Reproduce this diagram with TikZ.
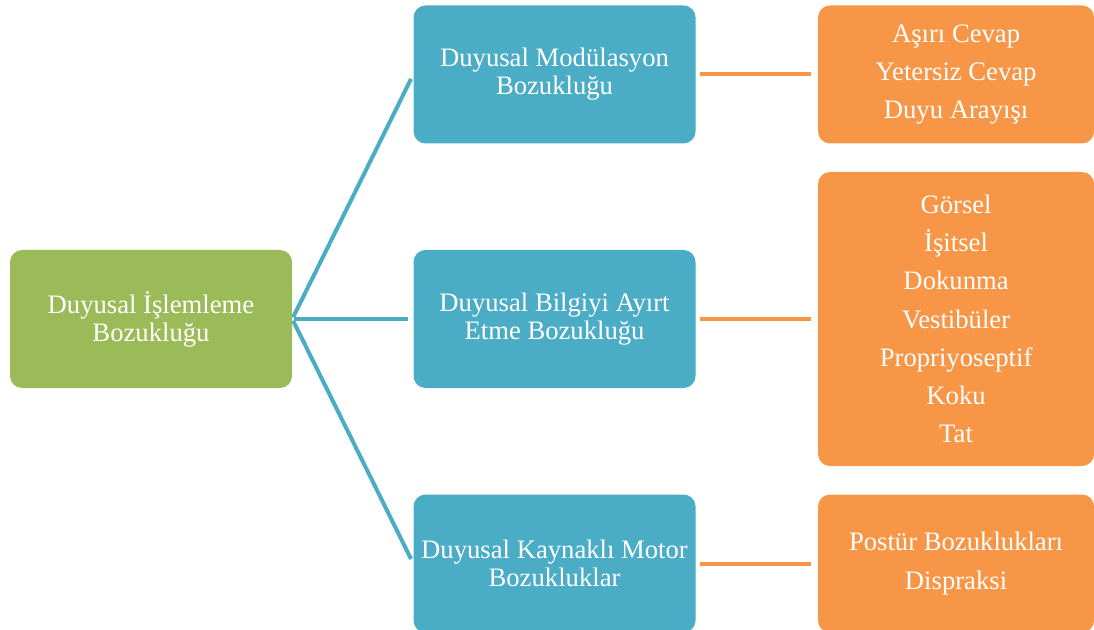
\documentclass[tikz,border=0pt]{standalone}
\usepackage{fontspec}
\setmainfont{Liberation Serif}
\usetikzlibrary{positioning}
\definecolor{grn}{HTML}{9BBB59}
\definecolor{blu}{HTML}{4BACC6}
\definecolor{org}{HTML}{F79646}
\begin{document}
\begin{tikzpicture}[x=1pt,y=1pt,
  box/.style={rounded corners=9pt,text=white,align=center,inner sep=2pt,minimum width=211.5pt,minimum height=103.5pt,font=\fontsize{20}{21}\selectfont},
  g/.style={box,fill=grn},
  b/.style={box,fill=blu},
  o/.style={box,fill=org,minimum width=207pt,font=\fontsize{20}{28.7}\selectfont},
  bl/.style={draw=blu,line width=3pt,shorten <=1.5pt,shorten >=3.75pt},
  ol/.style={draw=org,line width=3pt,shorten <=3pt,shorten >=5.25pt}]
\useasboundingbox (0,0) rectangle (820.5,-472.5);
\node[g] (root) at (113.25,-239.25) {Duyusal İşlemleme\\Bozukluğu};
\node[b,right=90.75pt of root] (mod) {Duyusal Bilgiyi Ayırt\\Etme Bozukluğu};
\node[b,above=79.5pt of mod] (top) {Duyusal Modülasyon\\Bozukluğu};
\node[b,below=79.5pt of mod] (mot) {Duyusal Kaynaklı Motor\\Bozukluklar};
\node[o,right=91.5pt of top] (o1) {Aşırı Cevap\\Yetersiz Cevap\\Duyu Arayışı};
\node[o,right=91.5pt of mod,minimum height=220.5pt] (o2) {Görsel\\İşitsel\\Dokunma\\Vestibüler\\Propriyoseptif\\Koku\\Tat};
\node[o,right=91.5pt of mot] (o3) {Postür Bozuklukları\\Dispraksi};
\draw[bl] (root.east) -- (top.west);
\draw[bl] (root.east) -- (mod.west);
\draw[bl] (root.east) -- (mot.west);
\draw[ol] (top.east) -- (o1.west);
\draw[ol] (mod.east) -- (o2.west);
\draw[ol] (mot.east) -- (o3.west);
\end{tikzpicture}
\end{document}
